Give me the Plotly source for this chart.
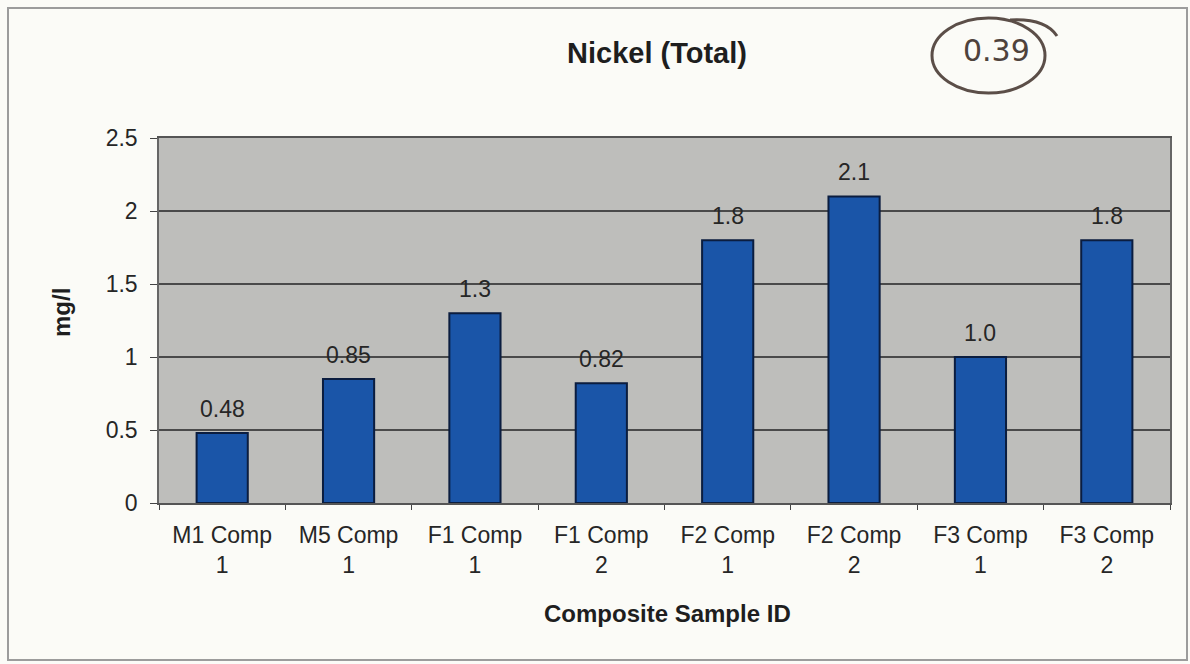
import plotly.graph_objects as go

# Data
categories = ["M1 Comp<br>1", "M5 Comp<br>1", "F1 Comp<br>1", "F1 Comp<br>2",
              "F2 Comp<br>1", "F2 Comp<br>2", "F3 Comp<br>1", "F3 Comp<br>2"]
nickel_mg_l = [0.48, 0.85, 1.3, 0.82, 1.8, 2.1, 1.0, 1.8]
value_labels = ["0.48", "0.85", "1.3", "0.82", "1.8", "2.1", "1.0", "1.8"]
y_ticks = [0, 0.5, 1, 1.5, 2, 2.5]
y_tick_labels = ["0", "0.5", "1", "1.5", "2", "2.5"]
handwritten_note = "0.39"

# Canvas and plot-area geometry (pixels)
W, H = 1190, 664
L, R, T, B = 159, 20, 138, 161
PW, PH = W - L - R, H - T - B

def px(x):
    return (x - L) / PW

def py(y):
    return (H - B - y) / PH

FONT = "Liberation Sans, Arial, sans-serif"
INK = "#262626"

fig = go.Figure()
fig.add_trace(go.Bar(
    x=categories, y=nickel_mg_l,
    marker=dict(color="#1a55a8", line=dict(color="#0b1d3f", width=2)),
    hoverinfo="skip",
))

annotations = []
for c, v, lab in zip(categories, nickel_mg_l, value_labels):
    annotations.append(dict(x=c, y=v, xref="x", yref="y", text=lab, showarrow=False,
                            yanchor="middle", yshift=24,
                            font=dict(family=FONT, size=23, color=INK)))

# Title and axis titles
annotations += [
    dict(x=px(657), y=py(53), xref="paper", yref="paper", text="<b>Nickel (Total)</b>",
         showarrow=False, xanchor="center", yanchor="middle",
         font=dict(family=FONT, size=29, color="#1e1e1e")),
    dict(x=px(667), y=py(613), xref="paper", yref="paper", text="<b>Composite Sample ID</b>",
         showarrow=False, xanchor="center", yanchor="middle",
         font=dict(family=FONT, size=24, color="#1e1e1e")),
    dict(x=px(61), y=py(313), xref="paper", yref="paper", text="<b>mg/l</b>",
         showarrow=False, textangle=-90, xanchor="center", yanchor="middle",
         font=dict(family=FONT, size=24, color="#1e1e1e")),
    dict(x=px(996), y=py(50), xref="paper", yref="paper", text=handwritten_note,
         showarrow=False, xanchor="center", yanchor="middle",
         font=dict(family="DejaVu Sans, sans-serif", size=30, color="#4e423c")),
]

shapes = [
    # outer chart frame
    dict(type="rect", xref="paper", yref="paper",
         x0=px(8), x1=px(1187), y0=py(660), y1=py(8),
         line=dict(color="#9c9c9c", width=2), layer="below"),
    # hand-drawn circle around the note
    dict(type="circle", xref="paper", yref="paper",
         x0=px(932), x1=px(1045), y0=py(93), y1=py(18),
         line=dict(color="#5b4e48", width=3)),
    dict(type="path", xref="paper", yref="paper",
         path=f"M {px(1010)} {py(20)} Q {px(1045)} {py(18)} {px(1057)} {py(36)}",
         line=dict(color="#5b4e48", width=3)),
]

fig.update_layout(
    width=W, height=H,
    margin=dict(l=L, r=R, t=T, b=B),
    paper_bgcolor="#fbfbf7",
    plot_bgcolor="#bebebb",
    bargap=0.595,
    showlegend=False,
    annotations=annotations,
    shapes=shapes,
    xaxis=dict(
        type="category",
        showgrid=False,
        ticks="outside", tickson="boundaries", ticklen=5, tickcolor="#444",
        showline=True, linecolor="#555", linewidth=1.5, mirror=True,
        tickfont=dict(family=FONT, size=23, color=INK),
        ticklabelstandoff=11,
    ),
    yaxis=dict(
        range=[0, 2.5],
        tickvals=y_ticks, ticktext=y_tick_labels,
        showgrid=True, gridcolor="#4a4a4a", gridwidth=1.5,
        zeroline=False,
        ticks="outside", ticklen=7, tickcolor="#444",
        showline=True, linecolor="#666", linewidth=1.5, mirror=True,
        tickfont=dict(family=FONT, size=23, color=INK),
        ticklabelstandoff=8,
    ),
)

fig.write_html("out.html")
